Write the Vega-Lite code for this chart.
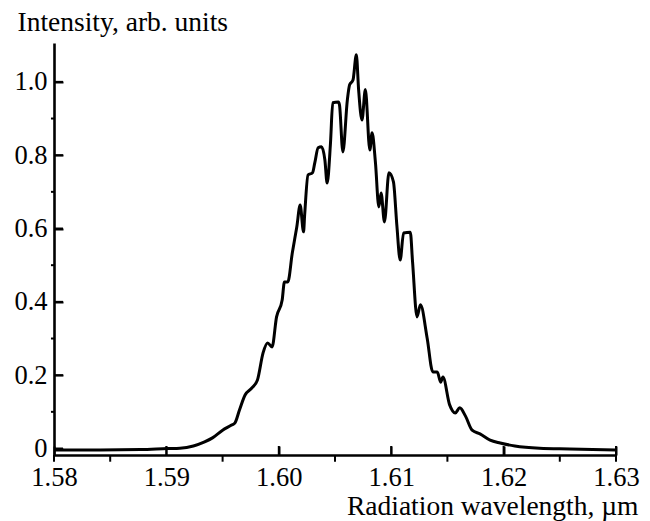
{
  "$schema": "https://vega.github.io/schema/vega-lite/v6.json",
  "autosize": "none",
  "width": 562,
  "height": 412,
  "padding": {"left": 54, "top": 43, "right": 34, "bottom": 66},
  "background": "white",
  "config": {
    "view": {"stroke": null},
    "font": "Liberation Serif",
    "axis": {
      "labelFont": "Liberation Serif",
      "titleFont": "Liberation Serif",
      "labelFontSize": 26.5,
      "titleFontSize": 27.5,
      "labelColor": "black",
      "titleColor": "black",
      "titleFontWeight": "normal",
      "domainColor": "black",
      "domainWidth": 2.6,
      "grid": false,
      "tickColor": "#000000",
      "tickWidth": 2
    }
  },
  "datasets": {
    "spectrum": [
      {"wl": 1.5800, "i": -0.004},
      {"wl": 1.5841, "i": -0.004},
      {"wl": 1.5877, "i": -0.003},
      {"wl": 1.5901, "i": 0.000},
      {"wl": 1.5912, "i": 0.001},
      {"wl": 1.5924, "i": 0.007},
      {"wl": 1.5934, "i": 0.018},
      {"wl": 1.5941, "i": 0.029},
      {"wl": 1.5950, "i": 0.050},
      {"wl": 1.5958, "i": 0.064},
      {"wl": 1.5961, "i": 0.070},
      {"wl": 1.5965, "i": 0.105},
      {"wl": 1.5970, "i": 0.146},
      {"wl": 1.5976, "i": 0.165},
      {"wl": 1.5981, "i": 0.187},
      {"wl": 1.5986, "i": 0.261},
      {"wl": 1.5990, "i": 0.288},
      {"wl": 1.5994, "i": 0.277},
      {"wl": 1.5998, "i": 0.359},
      {"wl": 1.6003, "i": 0.405},
      {"wl": 1.6005, "i": 0.454},
      {"wl": 1.6008, "i": 0.454},
      {"wl": 1.6012, "i": 0.533},
      {"wl": 1.6014, "i": 0.569},
      {"wl": 1.6016, "i": 0.604},
      {"wl": 1.6019, "i": 0.664},
      {"wl": 1.6022, "i": 0.591},
      {"wl": 1.6023, "i": 0.637},
      {"wl": 1.6026, "i": 0.746},
      {"wl": 1.6030, "i": 0.752},
      {"wl": 1.6032, "i": 0.779},
      {"wl": 1.6035, "i": 0.820},
      {"wl": 1.6038, "i": 0.823},
      {"wl": 1.6041, "i": 0.787},
      {"wl": 1.6043, "i": 0.724},
      {"wl": 1.6046, "i": 0.834},
      {"wl": 1.6048, "i": 0.943},
      {"wl": 1.6053, "i": 0.945},
      {"wl": 1.6054, "i": 0.937},
      {"wl": 1.6057, "i": 0.809},
      {"wl": 1.6061, "i": 0.951},
      {"wl": 1.6063, "i": 0.992},
      {"wl": 1.6066, "i": 1.005},
      {"wl": 1.6069, "i": 1.074},
      {"wl": 1.6071, "i": 0.979},
      {"wl": 1.6074, "i": 0.896},
      {"wl": 1.6077, "i": 0.979},
      {"wl": 1.6081, "i": 0.814},
      {"wl": 1.6083, "i": 0.861},
      {"wl": 1.6086, "i": 0.779},
      {"wl": 1.6089, "i": 0.659},
      {"wl": 1.6091, "i": 0.697},
      {"wl": 1.6094, "i": 0.618},
      {"wl": 1.6098, "i": 0.752},
      {"wl": 1.6102, "i": 0.727},
      {"wl": 1.6105, "i": 0.610},
      {"wl": 1.6108, "i": 0.514},
      {"wl": 1.6111, "i": 0.588},
      {"wl": 1.6117, "i": 0.590},
      {"wl": 1.6119, "i": 0.509},
      {"wl": 1.6123, "i": 0.359},
      {"wl": 1.6126, "i": 0.392},
      {"wl": 1.6132, "i": 0.301},
      {"wl": 1.6137, "i": 0.209},
      {"wl": 1.6141, "i": 0.209},
      {"wl": 1.6144, "i": 0.181},
      {"wl": 1.6146, "i": 0.195},
      {"wl": 1.6152, "i": 0.119},
      {"wl": 1.6157, "i": 0.097},
      {"wl": 1.6161, "i": 0.111},
      {"wl": 1.6166, "i": 0.089},
      {"wl": 1.6172, "i": 0.050},
      {"wl": 1.6179, "i": 0.040},
      {"wl": 1.6188, "i": 0.023},
      {"wl": 1.6197, "i": 0.015},
      {"wl": 1.6210, "i": 0.007},
      {"wl": 1.6232, "i": 0.001},
      {"wl": 1.6259, "i": -0.001},
      {"wl": 1.6300, "i": -0.004}
    ],
    "xticks": [
      {"wl": 1.58, "kind": "major"},
      {"wl": 1.59, "kind": "major"},
      {"wl": 1.60, "kind": "major"},
      {"wl": 1.61, "kind": "major"},
      {"wl": 1.62, "kind": "major"},
      {"wl": 1.63, "kind": "major"},
      {"wl": 1.585, "kind": "minor"},
      {"wl": 1.595, "kind": "minor"},
      {"wl": 1.605, "kind": "minor"},
      {"wl": 1.615, "kind": "minor"},
      {"wl": 1.625, "kind": "minor"}
    ],
    "yticks": [
      {"i": 0.0, "kind": "major"},
      {"i": 0.2, "kind": "major"},
      {"i": 0.4, "kind": "major"},
      {"i": 0.6, "kind": "major"},
      {"i": 0.8, "kind": "major"},
      {"i": 1.0, "kind": "major"},
      {"i": 0.1, "kind": "minor"},
      {"i": 0.3, "kind": "minor"},
      {"i": 0.5, "kind": "minor"},
      {"i": 0.7, "kind": "minor"},
      {"i": 0.9, "kind": "minor"}
    ]
  },
  "layer": [
    {
      "data": {"name": "spectrum"},
      "mark": {"type": "line", "color": "black", "strokeWidth": 3, "interpolate": "monotone", "clip": true},
      "encoding": {
        "x": {
          "field": "wl",
          "type": "quantitative",
          "scale": {"domain": [1.58, 1.63], "nice": false, "zero": false},
          "axis": {
            "orient": "bottom",
            "values": [1.58, 1.59, 1.6, 1.61, 1.62, 1.63],
            "format": ".2f",
            "tickSize": -9,
            "labelPadding": 18,
            "labelFlush": false,
            "labelOverlap": false,
            "title": "Radiation wavelength, µm",
            "titleAnchor": "end",
            "titleAlign": "right",
            "titleBaseline": "middle",
            "titleX": 584,
            "titleY": 51
          }
        },
        "y": {
          "field": "i",
          "type": "quantitative",
          "scale": {"domain": [-0.0177, 1.106], "nice": false, "zero": false},
          "axis": {
            "orient": "left",
            "values": [0, 0.2, 0.4, 0.6, 0.8, 1.0],
            "labelExpr": "datum.value == 0 ? '0' : format(datum.value, '.1f')",
            "tickSize": -9,
            "labelPadding": 16,
            "labelOverlap": false,
            "title": "Intensity, arb. units",
            "titleAngle": 0,
            "titleAlign": "left",
            "titleBaseline": "middle",
            "titleX": -37,
            "titleY": -21
          }
        }
      }
    },
    {
      "data": {"name": "xticks"},
      "transform": [{"filter": "datum.kind == 'major' && datum.wl > 1.585 && datum.wl < 1.625"}],
      "mark": {"type": "rule", "color": "black", "strokeWidth": 2},
      "encoding": {
        "x": {"field": "wl", "type": "quantitative"},
        "y": {"datum": -0.0177},
        "y2": {"datum": 0.0069}
      }
    },
    {
      "data": {"name": "xticks"},
      "transform": [{"filter": "datum.kind == 'minor' || datum.wl < 1.585 || datum.wl > 1.625"}],
      "mark": {"type": "rule", "color": "black", "strokeWidth": 2},
      "encoding": {
        "x": {"field": "wl", "type": "quantitative"},
        "y": {"datum": -0.0177},
        "y2": {"datum": -0.036}
      }
    },
    {
      "data": {"name": "xticks"},
      "transform": [{"filter": "datum.wl > 1.625"}],
      "mark": {"type": "rule", "color": "black", "strokeWidth": 2},
      "encoding": {
        "x": {"field": "wl", "type": "quantitative"},
        "y": {"datum": -0.0177},
        "y2": {"datum": 0.0069}
      }
    },
    {
      "data": {"name": "yticks"},
      "transform": [{"filter": "datum.kind == 'major'"}],
      "mark": {"type": "rule", "color": "black", "strokeWidth": 2},
      "encoding": {
        "y": {"field": "i", "type": "quantitative"},
        "x": {"datum": 1.58},
        "x2": {"datum": 1.5808}
      }
    },
    {
      "data": {"name": "yticks"},
      "transform": [{"filter": "datum.kind == 'minor'"}],
      "mark": {"type": "rule", "color": "black", "strokeWidth": 2},
      "encoding": {
        "y": {"field": "i", "type": "quantitative"},
        "x": {"datum": 1.58},
        "x2": {"datum": 1.57973}
      }
    }
  ]
}
